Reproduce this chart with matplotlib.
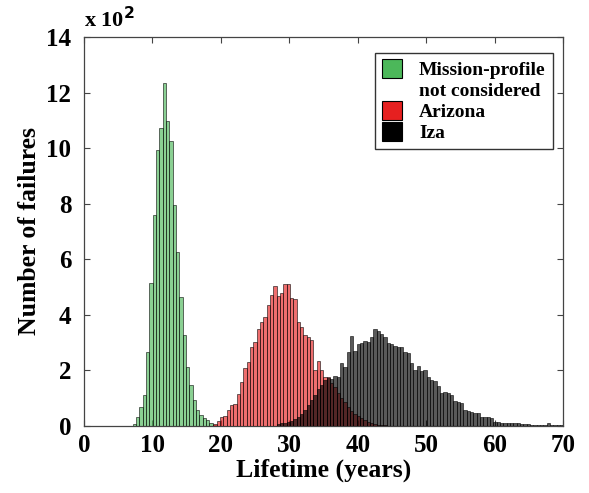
import numpy as np
import matplotlib.pyplot as plt
from matplotlib.patches import Patch

plt.rcParams['font.family'] = ['Liberation Serif', 'DejaVu Serif']
plt.rcParams['font.weight'] = 'bold'

# histogram bin width (years) and first bin edge of each series
BIN_W = 0.487
green_start = 7.1
red_start = 18.9
black_start = 28.16

# counts per bin
green_counts = [7, 33, 70, 112, 267, 514, 759, 993, 1071, 1233, 1098, 1025,
                795, 627, 465, 327, 213, 147, 94, 58, 40, 29, 22, 12, 5]

red_counts = [7, 19, 34, 36, 58, 76, 79, 114, 160, 208, 231, 285, 303, 348,
              375, 393, 435, 471, 504, 468, 477, 511, 511, 460, 456, 375,
              357, 327, 321, 309, 202, 235, 202, 177, 175, 153, 140, 120,
              100, 85, 68, 55, 42, 35, 27, 20, 14, 10, 7, 5, 3, 2]

black_counts = [7, 10, 12, 15, 19, 24, 34, 43, 58, 76, 94, 112, 132, 148,
                166, 172, 170, 180, 177, 228, 213, 267, 324, 271, 294, 297,
                306, 302, 321, 348, 342, 331, 321, 300, 294, 288, 285, 283,
                267, 261, 225, 201, 216, 199, 201, 177, 165, 162, 144, 120,
                123, 117, 111, 91, 87, 81, 58, 54, 52, 46, 46, 34, 34, 31,
                28, 16, 16, 12, 12, 10, 10, 12, 12, 7, 7, 7, 4, 4, 4, 4, 4,
                10, 4, 4, 4, 4]

labels = ['Mission-profile', 'not considered', 'Arizona', 'Iza']
green = '#4cb85a'
red = '#e62020'
black = '#000000'

fig = plt.figure(figsize=(5.89, 4.93), dpi=100)
ax = fig.add_axes([0.1426, 0.1359, 0.8134, 0.7891])

series = [(green_start, green_counts, green, 2),
          (red_start, red_counts, red, 3),
          (black_start, black_counts, black, 4)]
for start, counts, col, z in series:
    x = start + np.arange(len(counts)) * BIN_W
    ax.bar(x, counts, width=BIN_W, align='edge', color=col, alpha=0.65,
           edgecolor='black', linewidth=0.6, zorder=z)

ax.set_xlim(0, 70)
ax.set_ylim(0, 1400)
ax.set_xticks(np.arange(0, 71, 10))
ax.set_yticks(np.arange(0, 1401, 200))
ax.set_yticklabels([str(v // 100) for v in range(0, 1401, 200)])
ax.tick_params(direction='in', top=True, right=True, labelsize=18, length=4,
               width=0.8, color='#444444', pad=9)
ax.tick_params(axis='x', pad=6)
for s in ax.spines.values():
    s.set_color('#444444')
    s.set_linewidth(0.9)

ax.set_xlabel('Lifetime (years)', fontsize=18.5, fontweight='bold', labelpad=1)
ax.set_ylabel('Number of failures', fontsize=18.5, fontweight='bold', labelpad=4)
ax.text(0.0, 1.012, r'x 10$^{\mathbf{2}}$', transform=ax.transAxes, fontsize=16,
        fontweight='bold', ha='left', va='bottom')

handles = [Patch(facecolor=green, edgecolor='black', linewidth=0.8),
           Patch(facecolor='none', edgecolor='none'),
           Patch(facecolor=red, edgecolor='black', linewidth=0.8),
           Patch(facecolor=black, edgecolor='black', linewidth=0.8)]
leg = ax.legend(handles, labels, loc='upper right', bbox_to_anchor=(0.978, 0.96),
                frameon=True, fancybox=False, edgecolor='black',
                handlelength=1.0, handleheight=1.1, handletextpad=0.9,
                labelspacing=0.05, borderpad=0.35, borderaxespad=0,
                prop={'weight': 'bold', 'size': 14})
leg.get_frame().set_linewidth(1.0)

fig.savefig('out.png', dpi=100)
